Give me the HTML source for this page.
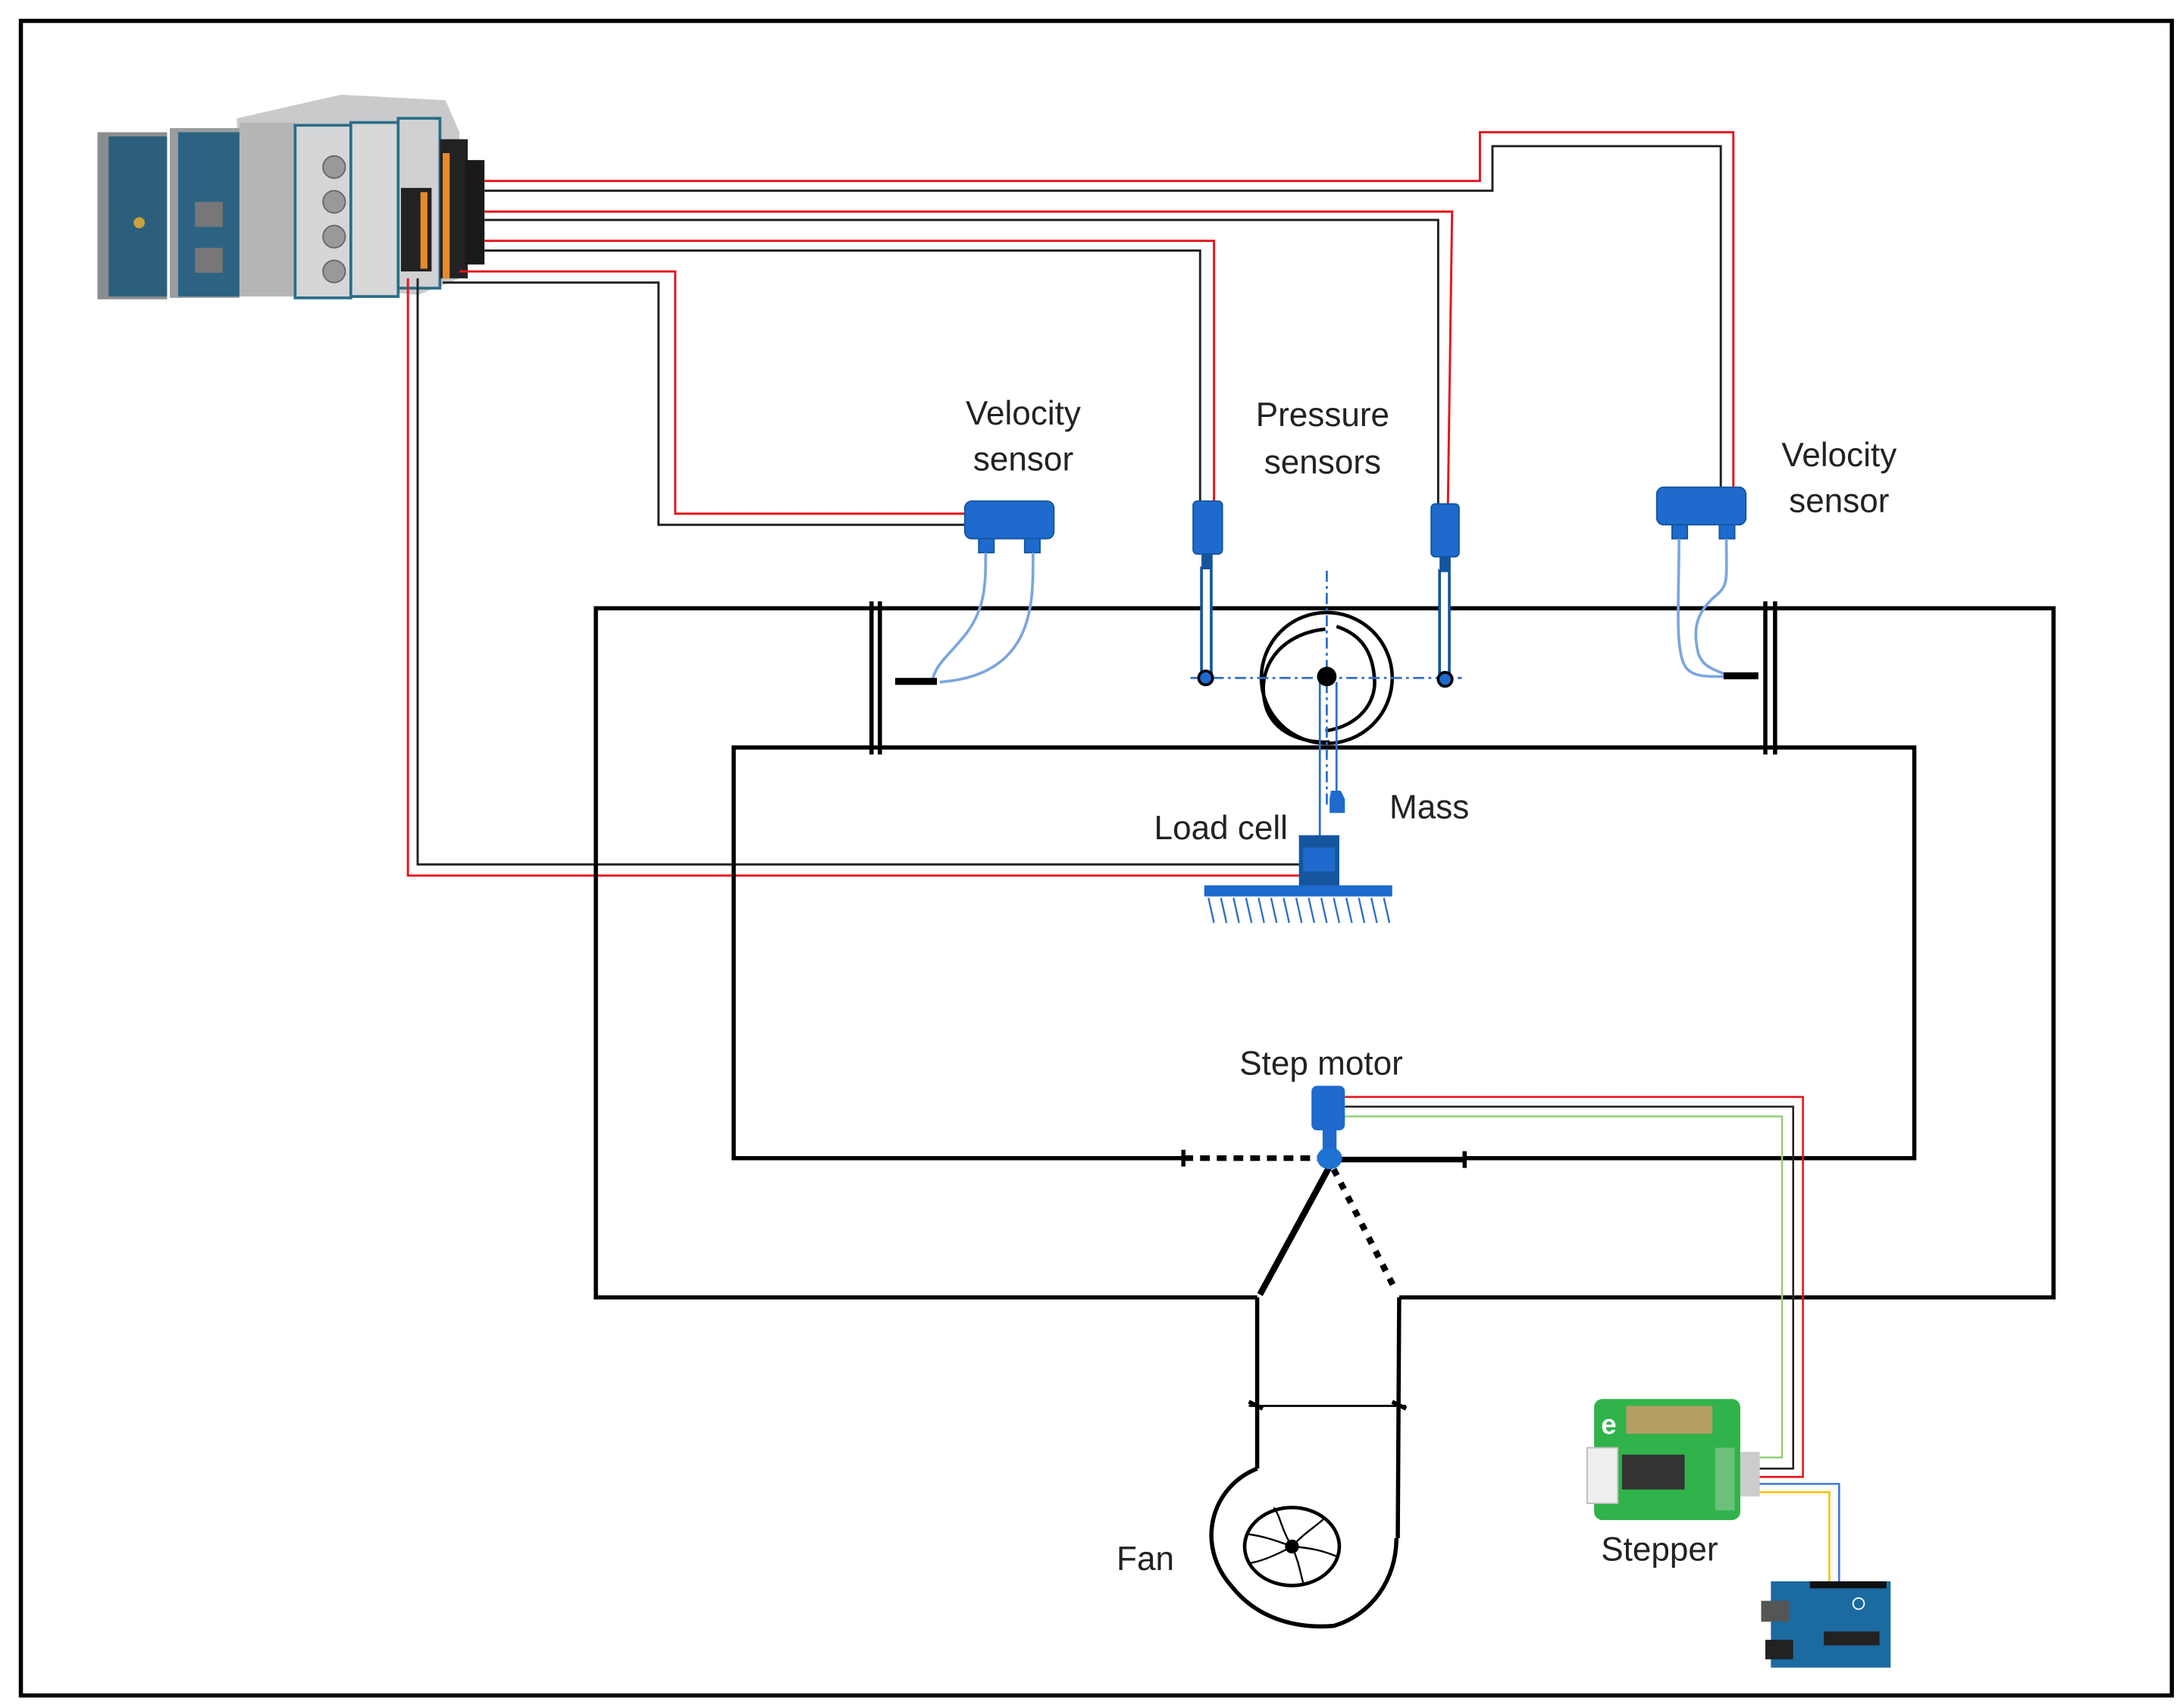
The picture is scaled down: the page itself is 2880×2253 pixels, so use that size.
<!DOCTYPE html>
<html><head><meta charset="utf-8"><style>
html,body{margin:0;padding:0;background:#fff}
svg{display:block}
text{font-family:"Liberation Sans","DejaVu Sans",sans-serif;fill:#222}
</style></head><body>
<svg width="2880" height="2253" viewBox="0 0 1568 1227" preserveAspectRatio="none" xmlns="http://www.w3.org/2000/svg">
<rect x="0" y="0" width="1568" height="1227" fill="#fff"/>
<rect x="15" y="15" width="1545" height="1203" fill="none" stroke="#000" stroke-width="3"/>

<!-- DAQ device -->
<g>
<polygon points="170,85 245,68 320,72 330,95 330,200 300,212 240,205 175,210" fill="#c8cacc"/>
<rect x="70" y="95" width="50" height="120" fill="#8a8d90"/>
<rect x="78" y="98" width="42" height="115" fill="#2c5f7c"/>
<rect x="122" y="92" width="50" height="122" fill="#9a9c9e"/>
<rect x="128" y="95" width="44" height="118" fill="#2c6382"/>
<rect x="140" y="145" width="20" height="18" fill="#777"/>
<rect x="140" y="178" width="20" height="18" fill="#777"/>
<circle cx="100" cy="160" r="4" fill="#c9a23a"/>
<rect x="172" y="88" width="40" height="125" fill="#b4b6b8"/>
<rect x="212" y="90" width="40" height="124" fill="#d4d6d8" stroke="#2a6d87" stroke-width="2"/>
<circle cx="240" cy="120" r="8" fill="#999" stroke="#666"/>
<circle cx="240" cy="145" r="8" fill="#999" stroke="#666"/>
<circle cx="240" cy="170" r="8" fill="#999" stroke="#666"/>
<circle cx="240" cy="195" r="8" fill="#999" stroke="#666"/>
<rect x="252" y="88" width="34" height="125" fill="#d8d8d8" stroke="#2a6d87" stroke-width="2"/>
<rect x="286" y="85" width="30" height="122" fill="#cfd1d3" stroke="#2a6d87" stroke-width="2"/>
<rect x="288" y="135" width="22" height="60" fill="#222"/>
<rect x="302" y="138" width="5" height="55" fill="#e88a2a"/>
<rect x="316" y="100" width="20" height="100" fill="#222"/>
<rect x="318" y="110" width="5" height="90" fill="#e88a2a"/>
<rect x="334" y="115" width="14" height="75" fill="#1a1a1a"/>
</g>

<!-- DAQ wires -->
<g fill="none" stroke-width="1.6">
<polyline points="348,130 1063,130 1063,95 1245,95 1245,350" stroke="#e8121a"/>
<polyline points="348,137 1072,137 1072,105 1236,105 1236,350" stroke="#222"/>
<polyline points="348,152 1043,152 1040,362" stroke="#e8121a"/>
<polyline points="348,158 1033,158 1033,362" stroke="#222"/>
<polyline points="348,173 872,173 872,360" stroke="#e8121a"/>
<polyline points="348,180 862,180 862,360" stroke="#222"/>
<polyline points="330,195 485,195 485,369 693,369" stroke="#e8121a"/>
<polyline points="318,203 473,203 473,377 693,377" stroke="#222"/>
<polyline points="293,200 293,629 935,629" stroke="#e8121a"/>
<polyline points="300,200 300,621 935,621" stroke="#222"/>
</g>

<!-- Duct -->
<g fill="none" stroke="#000" stroke-width="3">
<polyline points="903,932 428,932 428,437 1475,437 1475,932 1005,932"/>
<polyline points="850,832 527,832 527,537 1375,537 1375,832 1052,832"/>
<line x1="952" y1="833" x2="1052" y2="833" stroke-width="4"/>
<line x1="850" y1="832" x2="950" y2="832" stroke-width="4" stroke-dasharray="7,5"/>
<line x1="850" y1="826" x2="850" y2="838"/>
<line x1="1052" y1="827" x2="1052" y2="839"/>
<line x1="626" y1="432" x2="626" y2="542"/>
<line x1="632" y1="432" x2="632" y2="542"/>
<line x1="1268" y1="432" x2="1268" y2="542"/>
<line x1="1275" y1="432" x2="1275" y2="542"/>
<line x1="955" y1="838" x2="905" y2="930" stroke-width="4.5"/>
<line x1="958" y1="840" x2="1003" y2="928" stroke-width="4.5" stroke-dasharray="5,6"/>
<!-- fan -->
<line x1="903" y1="932" x2="903" y2="1055"/>
<line x1="1005" y1="932" x2="1004" y2="1105"/>
<line x1="897" y1="1010" x2="1010" y2="1010" stroke-width="1.5"/>
<line x1="897" y1="1007" x2="907" y2="1012"/>
<line x1="1000" y1="1007" x2="1010" y2="1012"/>
<path d="M903,1055 C870,1068 858,1110 885,1140 C905,1165 935,1170 958,1168 C985,1160 1003,1135 1003,1105"/>
<ellipse cx="928" cy="1111" rx="34" ry="28" stroke-width="2.5"/>
</g>
<g stroke="#000" stroke-width="1.3" fill="none">
<path d="M928,1111 C920,1098 920,1090 915,1083"/>
<path d="M928,1111 C938,1100 945,1097 952,1090"/>
<path d="M928,1111 C942,1112 950,1114 960,1118"/>
<path d="M928,1111 C933,1122 934,1130 936,1137"/>
<path d="M928,1111 C915,1118 905,1122 897,1123"/>
<path d="M928,1111 C915,1106 905,1103 895,1102"/>
</g>
<circle cx="928" cy="1111" r="5" fill="#000"/>

<!-- pulley -->
<circle cx="953" cy="487" r="47" fill="none" stroke="#000" stroke-width="2.5"/>
<path d="M952,452 C920,455 900,480 910,510 C918,530 942,534 955,533" fill="none" stroke="#000" stroke-width="2.5"/>
<path d="M952,525 C975,522 990,505 987,485 C985,465 975,455 960,450" fill="none" stroke="#000" stroke-width="2.5"/>
<line x1="855" y1="487" x2="1050" y2="487" stroke="#2f6fc8" stroke-width="1.5" stroke-dasharray="8,3,2,3"/>
<line x1="953" y1="410" x2="953" y2="580" stroke="#2f6fc8" stroke-width="1.5" stroke-dasharray="8,3,2,3"/>
<line x1="948" y1="490" x2="948" y2="602" stroke="#2f6fc8" stroke-width="1.5"/>
<line x1="960" y1="490" x2="960" y2="572" stroke="#2f6fc8" stroke-width="1.5"/>
<circle cx="953" cy="486" r="7" fill="#000"/>
<path d="M956,568 L963,568 L966,574 L966,584 L955,584 L955,574 Z" fill="#1e6acd"/>
<!-- load cell -->
<rect x="933" y="600" width="29" height="37" fill="#15559e"/>
<rect x="936" y="609" width="23" height="17" fill="#1e6acd"/>
<rect x="865" y="636" width="135" height="8" fill="#1e6acd"/>
<g stroke="#2f6fc8" stroke-width="1.3">
<line x1="868" y1="645" x2="872" y2="663"/><line x1="877" y1="645" x2="881" y2="663"/><line x1="886" y1="645" x2="890" y2="663"/><line x1="895" y1="645" x2="899" y2="663"/><line x1="904" y1="645" x2="908" y2="663"/><line x1="913" y1="645" x2="917" y2="663"/><line x1="922" y1="645" x2="926" y2="663"/><line x1="931" y1="645" x2="935" y2="663"/><line x1="940" y1="645" x2="944" y2="663"/><line x1="949" y1="645" x2="953" y2="663"/><line x1="958" y1="645" x2="962" y2="663"/><line x1="967" y1="645" x2="971" y2="663"/><line x1="976" y1="645" x2="980" y2="663"/><line x1="985" y1="645" x2="989" y2="663"/><line x1="994" y1="645" x2="998" y2="663"/>
</g>

<!-- pressure sensors -->
<rect x="857" y="360" width="21" height="38" rx="3" fill="#1e6acd" stroke="#15559e"/>
<rect x="863" y="398" width="8" height="10" fill="#15559e"/>
<rect x="863" y="408" width="7" height="75" fill="#fff" stroke="#15559e" stroke-width="2"/>
<circle cx="866" cy="487" r="5" fill="#1e6acd" stroke="#000" stroke-width="2"/>
<rect x="1028" y="362" width="20" height="38" rx="3" fill="#1e6acd" stroke="#15559e"/>
<rect x="1034" y="400" width="8" height="10" fill="#15559e"/>
<rect x="1034" y="410" width="7" height="74" fill="#fff" stroke="#15559e" stroke-width="2"/>
<circle cx="1038" cy="488" r="5" fill="#1e6acd" stroke="#000" stroke-width="2"/>

<!-- velocity sensor left -->
<rect x="693" y="360" width="64" height="27" rx="5" fill="#1e6acd" stroke="#15559e"/>
<rect x="703" y="387" width="11" height="10" fill="#1e6acd" stroke="#15559e"/>
<rect x="736" y="387" width="11" height="10" fill="#1e6acd" stroke="#15559e"/>
<path d="M708,397 C708,420 708,440 690,460 C680,472 672,478 670,488" fill="none" stroke="#7ba6e0" stroke-width="2"/>
<path d="M742,397 C742,430 745,485 675,490" fill="none" stroke="#7ba6e0" stroke-width="2"/>
<rect x="643" y="487" width="30" height="5" fill="#000"/>
<!-- velocity sensor right -->
<rect x="1190" y="350" width="64" height="27" rx="5" fill="#1e6acd" stroke="#15559e"/>
<rect x="1201" y="377" width="11" height="10" fill="#1e6acd" stroke="#15559e"/>
<rect x="1235" y="377" width="11" height="10" fill="#1e6acd" stroke="#15559e"/>
<path d="M1206,387 C1206,430 1203,465 1210,478 C1215,487 1228,486 1238,486" fill="none" stroke="#7ba6e0" stroke-width="2"/>
<path d="M1240,387 C1240,420 1242,420 1230,430 C1220,440 1215,450 1220,470 C1224,480 1232,481 1238,484" fill="none" stroke="#7ba6e0" stroke-width="2"/>
<rect x="1238" y="483" width="25" height="5" fill="#000"/>

<!-- step motor -->
<g fill="none" stroke-width="1.4">
<polyline points="966,788 1295,788 1295,1061 1255,1061" stroke="#e8121a"/>
<polyline points="966,795 1288,795 1288,1055 1255,1055" stroke="#222"/>
<polyline points="966,802 1280,802 1280,1047 1255,1047" stroke="#8fd07a"/>
<polyline points="1255,1066 1321,1066 1321,1137" stroke="#3b78d8"/>
<polyline points="1255,1072 1314,1072 1314,1137" stroke="#f5c000"/>
</g>
<rect x="942" y="780" width="24" height="32" rx="4" fill="#1e6acd"/>
<rect x="950" y="811" width="10" height="16" fill="#1e6acd"/>
<ellipse cx="955" cy="832" rx="9" ry="8" fill="#1e73d0"/>

<!-- stepper board -->
<rect x="1145" y="1005" width="105" height="87" rx="6" fill="#2fb34a"/>
<rect x="1168" y="1010" width="62" height="20" fill="#d49a6a" opacity="0.8"/>
<rect x="1140" y="1040" width="22" height="40" fill="#eee" stroke="#bbb"/>
<rect x="1165" y="1045" width="45" height="25" fill="#333"/>
<rect x="1232" y="1040" width="14" height="45" fill="#6cc07a"/>
<rect x="1250" y="1043" width="14" height="32" fill="#ccc"/>
<text x="1150" y="1030" font-size="20" font-weight="bold" style="fill:#fff">e</text>
<!-- arduino -->
<rect x="1272" y="1136" width="86" height="62" fill="#1b6aa0"/>
<rect x="1265" y="1150" width="20" height="15" fill="#555"/>
<rect x="1268" y="1178" width="20" height="14" fill="#222"/>
<rect x="1300" y="1136" width="55" height="5" fill="#111"/>
<rect x="1310" y="1172" width="40" height="10" fill="#222"/>
<circle cx="1335" cy="1152" r="4" fill="none" stroke="#fff"/>

<!-- labels -->
<g font-size="24">
<text x="735" y="305" text-anchor="middle">Velocity</text>
<text x="735" y="338" text-anchor="middle">sensor</text>
<text x="950" y="306" text-anchor="middle">Pressure</text>
<text x="950" y="340" text-anchor="middle">sensors</text>
<text x="1321" y="335" text-anchor="middle">Velocity</text>
<text x="1321" y="368" text-anchor="middle">sensor</text>
<text x="998" y="588">Mass</text>
<text x="925" y="603" text-anchor="end">Load cell</text>
<text x="949" y="772" text-anchor="middle">Step motor</text>
<text x="802" y="1128">Fan</text>
<text x="1150" y="1121">Stepper</text>
</g>
</svg>
</body></html>
